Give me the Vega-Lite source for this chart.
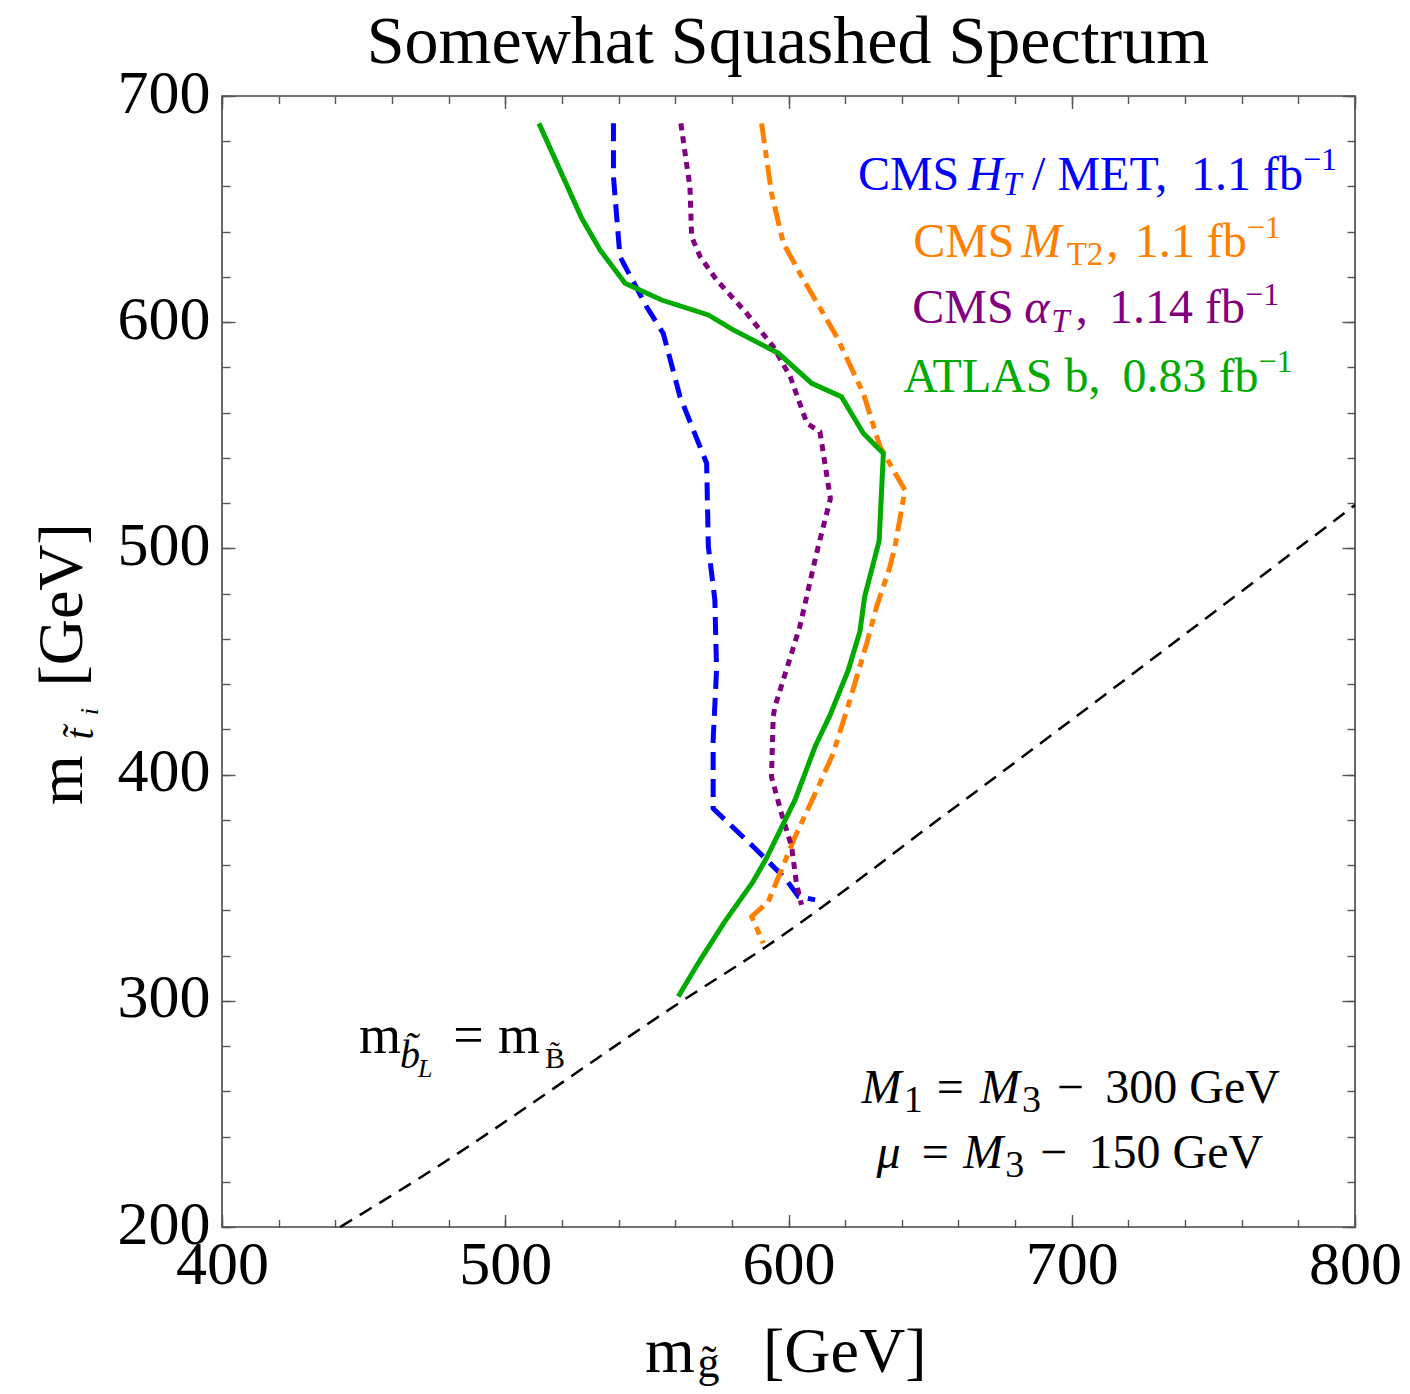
{
  "$schema": "https://vega.github.io/schema/vega-lite/v6.json",
  "width": 1133,
  "height": 1131,
  "autosize": {"type": "none"},
  "padding": {"left": 222, "top": 96, "right": 55, "bottom": 167},
  "background": "white",
  "config": {
    "view": {"stroke": "#444", "strokeWidth": 1.6},
    "font": "Liberation Serif",
    "axis": {"grid": false, "domain": false, "labelFont": "Liberation Serif", "labelColor": "black", "tickColor": "#555", "tickWidth": 1.4, "title": null}
  },
  "datasets": {
    "curves": [
      {"s": "diag", "i": 0, "x": 441.7, "y": 200},
      {"s": "diag", "i": 1, "x": 468.7, "y": 220.8},
      {"s": "diag", "i": 2, "x": 565, "y": 302},
      {"s": "diag", "i": 3, "x": 591, "y": 323},
      {"s": "diag", "i": 4, "x": 656, "y": 383},
      {"s": "diag", "i": 5, "x": 800, "y": 519.2},
      {"s": "HT", "i": 0, "x": 538.2, "y": 687.9},
      {"s": "HT", "i": 1, "x": 538.2, "y": 664.3},
      {"s": "HT", "i": 2, "x": 540.5, "y": 629},
      {"s": "HT", "i": 3, "x": 549.9, "y": 606.8},
      {"s": "HT", "i": 4, "x": 555.8, "y": 595},
      {"s": "HT", "i": 5, "x": 561.7, "y": 567.1},
      {"s": "HT", "i": 6, "x": 571.1, "y": 537.6},
      {"s": "HT", "i": 7, "x": 571.7, "y": 500.8},
      {"s": "HT", "i": 8, "x": 574, "y": 477.2},
      {"s": "HT", "i": 9, "x": 574.6, "y": 446.2},
      {"s": "HT", "i": 10, "x": 573.4, "y": 415.3},
      {"s": "HT", "i": 11, "x": 573.4, "y": 385},
      {"s": "HT", "i": 12, "x": 587.5, "y": 368.2},
      {"s": "HT", "i": 13, "x": 598.8, "y": 354.2},
      {"s": "HT", "i": 14, "x": 603.5, "y": 346.1},
      {"s": "HT", "i": 15, "x": 609.4, "y": 344.6},
      {"s": "MT2", "i": 0, "x": 590.5, "y": 687.9},
      {"s": "MT2", "i": 1, "x": 594, "y": 657},
      {"s": "MT2", "i": 2, "x": 598.2, "y": 634.9},
      {"s": "MT2", "i": 3, "x": 604, "y": 621.6},
      {"s": "MT2", "i": 4, "x": 617, "y": 593.6},
      {"s": "MT2", "i": 5, "x": 626.4, "y": 568.6},
      {"s": "MT2", "i": 6, "x": 632.3, "y": 545},
      {"s": "MT2", "i": 7, "x": 641.1, "y": 525.8},
      {"s": "MT2", "i": 8, "x": 637.6, "y": 500.8},
      {"s": "MT2", "i": 9, "x": 635.8, "y": 491.9},
      {"s": "MT2", "i": 10, "x": 631.1, "y": 474.2},
      {"s": "MT2", "i": 11, "x": 627.6, "y": 458},
      {"s": "MT2", "i": 12, "x": 621.7, "y": 433},
      {"s": "MT2", "i": 13, "x": 615.8, "y": 409.4},
      {"s": "MT2", "i": 14, "x": 610, "y": 393.2},
      {"s": "MT2", "i": 15, "x": 602.3, "y": 372.5},
      {"s": "MT2", "i": 16, "x": 597, "y": 356.4},
      {"s": "MT2", "i": 17, "x": 592.9, "y": 343.9},
      {"s": "MT2", "i": 18, "x": 587, "y": 337.2},
      {"s": "MT2", "i": 19, "x": 591.1, "y": 325.4},
      {"s": "aT", "i": 0, "x": 562, "y": 687.9},
      {"s": "aT", "i": 1, "x": 564, "y": 670.2},
      {"s": "aT", "i": 2, "x": 565.2, "y": 660},
      {"s": "aT", "i": 3, "x": 565.8, "y": 637.8},
      {"s": "aT", "i": 4, "x": 568.8, "y": 629},
      {"s": "aT", "i": 5, "x": 574.6, "y": 618.7},
      {"s": "aT", "i": 6, "x": 585.2, "y": 604},
      {"s": "aT", "i": 7, "x": 594.6, "y": 589.2},
      {"s": "aT", "i": 8, "x": 600.6, "y": 576},
      {"s": "aT", "i": 9, "x": 606.5, "y": 555.3},
      {"s": "aT", "i": 10, "x": 611.1, "y": 551.6},
      {"s": "aT", "i": 11, "x": 614.8, "y": 522},
      {"s": "aT", "i": 12, "x": 609.9, "y": 497.8},
      {"s": "aT", "i": 13, "x": 604, "y": 465.4},
      {"s": "aT", "i": 14, "x": 595.2, "y": 430},
      {"s": "aT", "i": 15, "x": 594.6, "y": 425.6},
      {"s": "aT", "i": 16, "x": 594, "y": 399},
      {"s": "aT", "i": 17, "x": 597.5, "y": 382.9},
      {"s": "aT", "i": 18, "x": 601.1, "y": 368.2},
      {"s": "aT", "i": 19, "x": 602.8, "y": 352},
      {"s": "aT", "i": 20, "x": 604.6, "y": 342.4},
      {"s": "ATLAS", "i": 0, "x": 511.9, "y": 687.9},
      {"s": "ATLAS", "i": 1, "x": 527, "y": 645.9},
      {"s": "ATLAS", "i": 2, "x": 533.5, "y": 631.9},
      {"s": "ATLAS", "i": 3, "x": 542.3, "y": 617.2},
      {"s": "ATLAS", "i": 4, "x": 555.2, "y": 609.8},
      {"s": "ATLAS", "i": 5, "x": 571.7, "y": 603.2},
      {"s": "ATLAS", "i": 6, "x": 580.5, "y": 596.6},
      {"s": "ATLAS", "i": 7, "x": 596.4, "y": 586.3},
      {"s": "ATLAS", "i": 8, "x": 608.2, "y": 573},
      {"s": "ATLAS", "i": 9, "x": 618.7, "y": 567.1},
      {"s": "ATLAS", "i": 10, "x": 626.4, "y": 550.9},
      {"s": "ATLAS", "i": 11, "x": 633.5, "y": 542},
      {"s": "ATLAS", "i": 12, "x": 632, "y": 503.3},
      {"s": "ATLAS", "i": 13, "x": 626.9, "y": 478.7},
      {"s": "ATLAS", "i": 14, "x": 625.2, "y": 463.2},
      {"s": "ATLAS", "i": 15, "x": 621.1, "y": 446.2},
      {"s": "ATLAS", "i": 16, "x": 614.7, "y": 426.4},
      {"s": "ATLAS", "i": 17, "x": 609.4, "y": 412.4},
      {"s": "ATLAS", "i": 18, "x": 602.3, "y": 388.8},
      {"s": "ATLAS", "i": 19, "x": 592.2, "y": 363},
      {"s": "ATLAS", "i": 20, "x": 587.5, "y": 352.7},
      {"s": "ATLAS", "i": 21, "x": 577.5, "y": 335},
      {"s": "ATLAS", "i": 22, "x": 568.8, "y": 318},
      {"s": "ATLAS", "i": 23, "x": 561.1, "y": 301.9}
    ],
    "ttl": [{"t": "Somewhat Squashed Spectrum", "x": 599.8, "y": 714.6}],
    "up48L": [
      {"t": "CMS", "x": 624.5, "y": 658.4, "s": "HT"},
      {"t": "/ MET,", "x": 686.0, "y": 658.4, "s": "HT"},
      {"t": "CMS", "x": 644.0, "y": 629.0, "s": "MT2"},
      {"t": ",", "x": 712.3, "y": 629.0, "s": "MT2"},
      {"t": "CMS", "x": 643.7, "y": 599.5, "s": "aT"},
      {"t": ",", "x": 701.4, "y": 599.5, "s": "aT"},
      {"t": "ATLAS b,", "x": 640.5, "y": 569.3, "s": "ATLAS"},
      {"t": "=", "x": 652.3, "y": 254.7, "s": "note"},
      {"t": "−", "x": 694.7, "y": 254.7, "s": "note"},
      {"t": "=", "x": 647.0, "y": 225.9, "s": "note"},
      {"t": "−", "x": 688.8, "y": 225.9, "s": "note"}
    ],
    "up48R": [
      {"t": "1.1 fb", "x": 781.6, "y": 658.4, "s": "HT"},
      {"t": "1.1 fb", "x": 761.8, "y": 629.0, "s": "MT2"},
      {"t": "1.14 fb", "x": 761.2, "y": 599.5, "s": "aT"},
      {"t": "0.83 fb", "x": 765.9, "y": 569.3, "s": "ATLAS"},
      {"t": "300 GeV", "x": 773.5, "y": 254.7, "s": "note"},
      {"t": "150 GeV", "x": 767.6, "y": 225.9, "s": "note"}
    ],
    "it48L": [
      {"t": "H", "x": 663.4, "y": 658.4, "s": "HT"},
      {"t": "M", "x": 682.3, "y": 629.0, "s": "MT2"},
      {"t": "α", "x": 683.2, "y": 599.5, "s": "aT"},
      {"t": "M", "x": 625.8, "y": 254.7, "s": "note"},
      {"t": "M", "x": 667.6, "y": 254.7, "s": "note"},
      {"t": "μ", "x": 631.1, "y": 225.9, "s": "note"},
      {"t": "M", "x": 661.7, "y": 225.9, "s": "note"}
    ],
    "it33L": [
      {"t": "T", "x": 675.7, "y": 656.2, "s": "HT"},
      {"t": "T", "x": 692.8, "y": 595.8, "s": "aT"}
    ],
    "up33L": [
      {"t": "T2", "x": 698.2, "y": 625.3, "s": "MT2"}
    ],
    "sup": [
      {"t": "−1", "x": 781.6, "y": 667.3, "s": "HT"},
      {"t": "−1", "x": 761.8, "y": 637.1, "s": "MT2"},
      {"t": "−1", "x": 761.2, "y": 607.6, "s": "aT"},
      {"t": "−1", "x": 765.9, "y": 578.1, "s": "ATLAS"}
    ],
    "sub38": [
      {"t": "1", "x": 640.7, "y": 251.0},
      {"t": "3", "x": 682.4, "y": 251.0},
      {"t": "3", "x": 676.5, "y": 222.2}
    ],
    "mb54": [
      {"t": "m", "x": 448.4, "y": 276.8},
      {"t": "=", "x": 481.6, "y": 276.8},
      {"t": "m", "x": 497.4, "y": 276.8}
    ],
    "b40": [{"t": "b̃", "x": 462.8, "y": 270.3}],
    "L26": [{"t": "L", "x": 469.2, "y": 266.3}],
    "B30": [{"t": "B̃", "x": 514.0, "y": 270.3}],
    "xt64": [
      {"t": "m", "x": 549.3, "y": 136},
      {"t": "[GeV]", "x": 591.0, "y": 136}
    ],
    "xg44": [{"t": "g̃", "x": 567.9, "y": 133.5}],
    "yt64": [
      {"t": "m", "x": 350.5, "y": 386.6},
      {"t": "[GeV]", "x": 350.5, "y": 438.9}
    ],
    "yt40": [{"t": "t̃", "x": 354.4, "y": 415.5}],
    "yi26": [{"t": "i", "x": 356.2, "y": 426.2}]
  },
  "layer": [
    {
      "data": {"name": "curves"},
      "transform": [{"filter": "datum.s === 'diag'"}],
      "mark": {"type": "line", "color": "black", "strokeWidth": 2.5, "strokeDash": [14, 9], "interpolate": "monotone"},
      "encoding": {
        "x": {"field": "x", "type": "quantitative", "title": "gluino mass [GeV]", "scale": {"domain": [400, 800], "nice": false, "zero": false},
              "axis": {"orient": "bottom", "values": [400, 500, 600, 700, 800], "ticks": false, "tickSize": 0, "labelPadding": 56, "labelBaseline": "alphabetic", "labelFontSize": 62, "labelFlush": false, "labelOverlap": false, "labelAlign": "center", "title": null}},
        "y": {"field": "y", "type": "quantitative", "title": "stop mass [GeV]", "scale": {"domain": [200, 700], "nice": false, "zero": false},
              "axis": {"orient": "left", "values": [200, 300, 400, 500, 600, 700], "ticks": false, "tickSize": 0, "labelPadding": 12, "labelBaseline": "alphabetic", "labelOffset": 16, "labelFontSize": 62, "labelFlush": false, "labelOverlap": false, "labelAlign": "right", "title": null}},
        "order": {"field": "i", "type": "quantitative"}
      }
    },
    {
      "data": {"name": "curves"},
      "transform": [{"filter": "datum.s === 'HT'"}],
      "mark": {"type": "line", "color": "#0000ff", "strokeWidth": 5, "strokeDash": [18, 9]},
      "encoding": {
        "x": {"field": "x", "type": "quantitative", "scale": {"domain": [400, 800], "nice": false, "zero": false},
              "axis": {"orient": "bottom", "values": [400, 500, 600, 700, 800], "labels": false, "tickSize": -12.5, "title": null}},
        "y": {"field": "y", "type": "quantitative", "scale": {"domain": [200, 700], "nice": false, "zero": false},
              "axis": {"orient": "left", "values": [200, 300, 400, 500, 600, 700], "labels": false, "tickSize": -13, "title": null}},
        "order": {"field": "i", "type": "quantitative"}
      }
    },
    {
      "data": {"name": "curves"},
      "transform": [{"filter": "datum.s === 'MT2'"}],
      "mark": {"type": "line", "color": "#ff8000", "strokeWidth": 5, "strokeDash": [20, 7, 8, 7]},
      "encoding": {
        "x": {"field": "x", "type": "quantitative", "scale": {"domain": [400, 800], "nice": false, "zero": false},
              "axis": {"orient": "bottom", "values": [400, 420, 440, 460, 480, 500, 520, 540, 560, 580, 600, 620, 640, 660, 680, 700, 720, 740, 760, 780, 800], "labels": false, "tickSize": -7.5, "title": null}},
        "y": {"field": "y", "type": "quantitative", "scale": {"domain": [200, 700], "nice": false, "zero": false},
              "axis": {"orient": "left", "values": [200, 220, 240, 260, 280, 300, 320, 340, 360, 380, 400, 420, 440, 460, 480, 500, 520, 540, 560, 580, 600, 620, 640, 660, 680, 700], "labels": false, "tickSize": -8, "title": null}},
        "order": {"field": "i", "type": "quantitative"}
      }
    },
    {
      "data": {"name": "curves"},
      "transform": [{"filter": "datum.s === 'aT'"}],
      "mark": {"type": "line", "color": "#800080", "strokeWidth": 5, "strokeDash": [7, 6]},
      "encoding": {
        "x": {"field": "x", "type": "quantitative", "scale": {"domain": [400, 800], "nice": false, "zero": false},
              "axis": {"orient": "top", "values": [400, 500, 600, 700, 800], "labels": false, "tickSize": -12.5, "title": null}},
        "y": {"field": "y", "type": "quantitative", "scale": {"domain": [200, 700], "nice": false, "zero": false},
              "axis": {"orient": "right", "values": [200, 300, 400, 500, 600, 700], "labels": false, "tickSize": -13, "title": null}},
        "order": {"field": "i", "type": "quantitative"}
      }
    },
    {
      "data": {"name": "curves"},
      "transform": [{"filter": "datum.s === 'ATLAS'"}],
      "mark": {"type": "line", "color": "#00aa00", "strokeWidth": 5},
      "encoding": {
        "x": {"field": "x", "type": "quantitative", "scale": {"domain": [400, 800], "nice": false, "zero": false},
              "axis": {"orient": "top", "values": [400, 420, 440, 460, 480, 500, 520, 540, 560, 580, 600, 620, 640, 660, 680, 700, 720, 740, 760, 780, 800], "labels": false, "tickSize": -7.5, "title": null}},
        "y": {"field": "y", "type": "quantitative", "scale": {"domain": [200, 700], "nice": false, "zero": false},
              "axis": {"orient": "right", "values": [200, 220, 240, 260, 280, 300, 320, 340, 360, 380, 400, 420, 440, 460, 480, 500, 520, 540, 560, 580, 600, 620, 640, 660, 680, 700], "labels": false, "tickSize": -8, "title": null}},
        "order": {"field": "i", "type": "quantitative"}
      }
    },
    {
      "data": {"name": "ttl"},
      "mark": {"type": "text", "align": "center", "baseline": "alphabetic", "fontSize": 68, "font": "Liberation Serif", "color": "black"},
      "encoding": {
        "x": {"field": "x", "type": "quantitative", "scale": {"domain": [400, 800], "nice": false, "zero": false}, "axis": null},
        "y": {"field": "y", "type": "quantitative", "scale": {"domain": [200, 700], "nice": false, "zero": false}, "axis": null},
        "text": {"field": "t"}
      }
    },
    {
      "data": {"name": "up48L"},
      "mark": {"type": "text", "align": "left", "baseline": "alphabetic", "fontSize": 48, "font": "Liberation Serif"},
      "encoding": {
        "x": {"field": "x", "type": "quantitative", "scale": {"domain": [400, 800], "nice": false, "zero": false}, "axis": null},
        "y": {"field": "y", "type": "quantitative", "scale": {"domain": [200, 700], "nice": false, "zero": false}, "axis": null},
        "text": {"field": "t"},
        "color": {"field": "s", "type": "nominal", "scale": {"domain": ["HT", "MT2", "aT", "ATLAS", "note"], "range": ["#0000ff", "#ff8000", "#800080", "#00aa00", "#000000"]}, "legend": null}
      }
    },
    {
      "data": {"name": "up48R"},
      "mark": {"type": "text", "align": "right", "baseline": "alphabetic", "fontSize": 48, "font": "Liberation Serif"},
      "encoding": {
        "x": {"field": "x", "type": "quantitative", "scale": {"domain": [400, 800], "nice": false, "zero": false}, "axis": null},
        "y": {"field": "y", "type": "quantitative", "scale": {"domain": [200, 700], "nice": false, "zero": false}, "axis": null},
        "text": {"field": "t"},
        "color": {"field": "s", "type": "nominal", "scale": {"domain": ["HT", "MT2", "aT", "ATLAS", "note"], "range": ["#0000ff", "#ff8000", "#800080", "#00aa00", "#000000"]}, "legend": null}
      }
    },
    {
      "data": {"name": "it48L"},
      "mark": {"type": "text", "align": "left", "baseline": "alphabetic", "fontSize": 48, "fontStyle": "italic", "font": "Liberation Serif"},
      "encoding": {
        "x": {"field": "x", "type": "quantitative", "scale": {"domain": [400, 800], "nice": false, "zero": false}, "axis": null},
        "y": {"field": "y", "type": "quantitative", "scale": {"domain": [200, 700], "nice": false, "zero": false}, "axis": null},
        "text": {"field": "t"},
        "color": {"field": "s", "type": "nominal", "scale": {"domain": ["HT", "MT2", "aT", "ATLAS", "note"], "range": ["#0000ff", "#ff8000", "#800080", "#00aa00", "#000000"]}, "legend": null}
      }
    },
    {
      "data": {"name": "it33L"},
      "mark": {"type": "text", "align": "left", "baseline": "alphabetic", "fontSize": 33, "fontStyle": "italic", "font": "Liberation Serif"},
      "encoding": {
        "x": {"field": "x", "type": "quantitative", "scale": {"domain": [400, 800], "nice": false, "zero": false}, "axis": null},
        "y": {"field": "y", "type": "quantitative", "scale": {"domain": [200, 700], "nice": false, "zero": false}, "axis": null},
        "text": {"field": "t"},
        "color": {"field": "s", "type": "nominal", "scale": {"domain": ["HT", "MT2", "aT", "ATLAS", "note"], "range": ["#0000ff", "#ff8000", "#800080", "#00aa00", "#000000"]}, "legend": null}
      }
    },
    {
      "data": {"name": "up33L"},
      "mark": {"type": "text", "align": "left", "baseline": "alphabetic", "fontSize": 33, "font": "Liberation Serif"},
      "encoding": {
        "x": {"field": "x", "type": "quantitative", "scale": {"domain": [400, 800], "nice": false, "zero": false}, "axis": null},
        "y": {"field": "y", "type": "quantitative", "scale": {"domain": [200, 700], "nice": false, "zero": false}, "axis": null},
        "text": {"field": "t"},
        "color": {"field": "s", "type": "nominal", "scale": {"domain": ["HT", "MT2", "aT", "ATLAS", "note"], "range": ["#0000ff", "#ff8000", "#800080", "#00aa00", "#000000"]}, "legend": null}
      }
    },
    {
      "data": {"name": "sup"},
      "mark": {"type": "text", "align": "left", "baseline": "alphabetic", "fontSize": 32, "font": "Liberation Serif"},
      "encoding": {
        "x": {"field": "x", "type": "quantitative", "scale": {"domain": [400, 800], "nice": false, "zero": false}, "axis": null},
        "y": {"field": "y", "type": "quantitative", "scale": {"domain": [200, 700], "nice": false, "zero": false}, "axis": null},
        "text": {"field": "t"},
        "color": {"field": "s", "type": "nominal", "scale": {"domain": ["HT", "MT2", "aT", "ATLAS", "note"], "range": ["#0000ff", "#ff8000", "#800080", "#00aa00", "#000000"]}, "legend": null}
      }
    },
    {
      "data": {"name": "sub38"},
      "mark": {"type": "text", "align": "left", "baseline": "alphabetic", "fontSize": 38, "font": "Liberation Serif", "color": "black"},
      "encoding": {
        "x": {"field": "x", "type": "quantitative", "scale": {"domain": [400, 800], "nice": false, "zero": false}, "axis": null},
        "y": {"field": "y", "type": "quantitative", "scale": {"domain": [200, 700], "nice": false, "zero": false}, "axis": null},
        "text": {"field": "t"}
      }
    },
    {
      "data": {"name": "mb54"},
      "mark": {"type": "text", "align": "left", "baseline": "alphabetic", "fontSize": 54, "font": "Liberation Serif", "color": "black"},
      "encoding": {
        "x": {"field": "x", "type": "quantitative", "scale": {"domain": [400, 800], "nice": false, "zero": false}, "axis": null},
        "y": {"field": "y", "type": "quantitative", "scale": {"domain": [200, 700], "nice": false, "zero": false}, "axis": null},
        "text": {"field": "t"}
      }
    },
    {
      "data": {"name": "b40"},
      "mark": {"type": "text", "align": "left", "baseline": "alphabetic", "fontSize": 40, "fontStyle": "italic", "font": "Liberation Serif", "color": "black"},
      "encoding": {
        "x": {"field": "x", "type": "quantitative", "scale": {"domain": [400, 800], "nice": false, "zero": false}, "axis": null},
        "y": {"field": "y", "type": "quantitative", "scale": {"domain": [200, 700], "nice": false, "zero": false}, "axis": null},
        "text": {"field": "t"}
      }
    },
    {
      "data": {"name": "L26"},
      "mark": {"type": "text", "align": "left", "baseline": "alphabetic", "fontSize": 26, "fontStyle": "italic", "font": "Liberation Serif", "color": "black"},
      "encoding": {
        "x": {"field": "x", "type": "quantitative", "scale": {"domain": [400, 800], "nice": false, "zero": false}, "axis": null},
        "y": {"field": "y", "type": "quantitative", "scale": {"domain": [200, 700], "nice": false, "zero": false}, "axis": null},
        "text": {"field": "t"}
      }
    },
    {
      "data": {"name": "B30"},
      "mark": {"type": "text", "align": "left", "baseline": "alphabetic", "fontSize": 30, "font": "Liberation Serif", "color": "black"},
      "encoding": {
        "x": {"field": "x", "type": "quantitative", "scale": {"domain": [400, 800], "nice": false, "zero": false}, "axis": null},
        "y": {"field": "y", "type": "quantitative", "scale": {"domain": [200, 700], "nice": false, "zero": false}, "axis": null},
        "text": {"field": "t"}
      }
    },
    {
      "data": {"name": "xt64"},
      "mark": {"type": "text", "align": "left", "baseline": "alphabetic", "fontSize": 64, "font": "Liberation Serif", "color": "black"},
      "encoding": {
        "x": {"field": "x", "type": "quantitative", "scale": {"domain": [400, 800], "nice": false, "zero": false}, "axis": null},
        "y": {"field": "y", "type": "quantitative", "scale": {"domain": [200, 700], "nice": false, "zero": false}, "axis": null},
        "text": {"field": "t"}
      }
    },
    {
      "data": {"name": "xg44"},
      "mark": {"type": "text", "align": "left", "baseline": "alphabetic", "fontSize": 44, "font": "Liberation Serif", "color": "black"},
      "encoding": {
        "x": {"field": "x", "type": "quantitative", "scale": {"domain": [400, 800], "nice": false, "zero": false}, "axis": null},
        "y": {"field": "y", "type": "quantitative", "scale": {"domain": [200, 700], "nice": false, "zero": false}, "axis": null},
        "text": {"field": "t"}
      }
    },
    {
      "data": {"name": "yt64"},
      "mark": {"type": "text", "align": "left", "baseline": "alphabetic", "fontSize": 64, "font": "Liberation Serif", "color": "black", "angle": 270},
      "encoding": {
        "x": {"field": "x", "type": "quantitative", "scale": {"domain": [400, 800], "nice": false, "zero": false}, "axis": null},
        "y": {"field": "y", "type": "quantitative", "scale": {"domain": [200, 700], "nice": false, "zero": false}, "axis": null},
        "text": {"field": "t"}
      }
    },
    {
      "data": {"name": "yt40"},
      "mark": {"type": "text", "align": "left", "baseline": "alphabetic", "fontSize": 40, "fontStyle": "italic", "font": "Liberation Serif", "color": "black", "angle": 270},
      "encoding": {
        "x": {"field": "x", "type": "quantitative", "scale": {"domain": [400, 800], "nice": false, "zero": false}, "axis": null},
        "y": {"field": "y", "type": "quantitative", "scale": {"domain": [200, 700], "nice": false, "zero": false}, "axis": null},
        "text": {"field": "t"}
      }
    },
    {
      "data": {"name": "yi26"},
      "mark": {"type": "text", "align": "left", "baseline": "alphabetic", "fontSize": 26, "fontStyle": "italic", "font": "Liberation Serif", "color": "black", "angle": 270},
      "encoding": {
        "x": {"field": "x", "type": "quantitative", "scale": {"domain": [400, 800], "nice": false, "zero": false}, "axis": null},
        "y": {"field": "y", "type": "quantitative", "scale": {"domain": [200, 700], "nice": false, "zero": false}, "axis": null},
        "text": {"field": "t"}
      }
    }
  ],
  "resolve": {"axis": {"x": "independent", "y": "independent"}}
}
